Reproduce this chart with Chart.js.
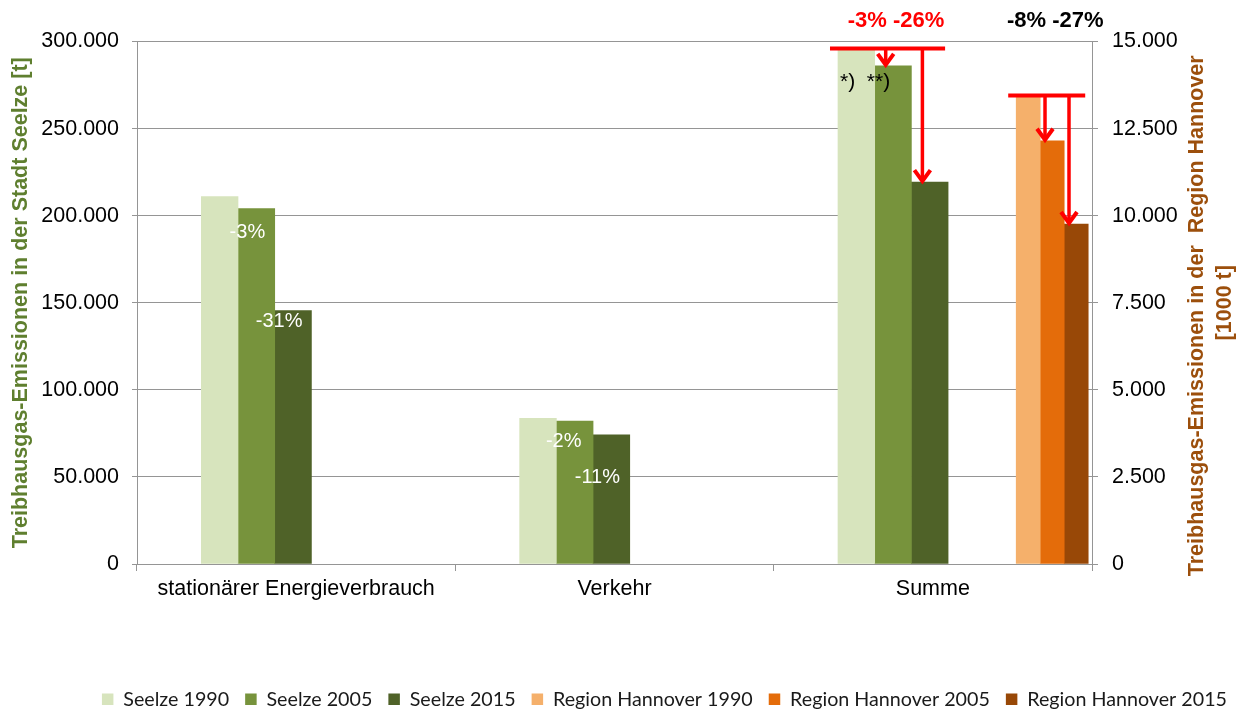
<!DOCTYPE html>
<html lang="de">
<head>
    <meta charset="UTF-8">
    <title>Treibhausgas-Emissionen Seelze und Region Hannover</title>
    <script src="https://cdn.jsdelivr.net/npm/chart.js"></script>
    <style>
        html, body {
            margin: 0;
            padding: 0;
            background: #ffffff;
        }

        .chart-container {
            position: relative;
            width: 1243px;
            height: 714px;
        }
    </style>
</head>
<body>

    <div class="chart-container">
        <canvas id="emissionChart"></canvas>
    </div>

    <script>
        // categories on the x axis
        const categories = ["stationärer Energieverbrauch", "Verkehr", "Summe"];

        // Seelze in t (left axis)
        const seelze1990 = [211000, 83700, 296000];
        const seelze2005 = [204000, 82100, 286000];
        const seelze2015 = [145500, 74200, 219300];

        // Region Hannover in 1000 t (right axis), only shown for "Summe"
        const region1990 = [null, null, 13450];
        const region2005 = [null, null, 12150];
        const region2015 = [null, null, 9760];

        // tick values
        const leftTicks = [0, 50000, 100000, 150000, 200000, 250000, 300000];
        const rightTicks = [0, 2500, 5000, 7500, 10000, 12500, 15000];

        // change labels
        const change2005 = ["-3%", "-2%", null];
        const change2015 = ["-31%", "-11%", null];
        const summeChangeSeelze = "-3% -26%";
        const summeChangeRegion = "-8% -27%";
        const footnote = "*)  **)";

        const leftTitle = "Treibhausgas-Emissionen in der Stadt Seelze [t]";
        const rightTitle = ["Treibhausgas-Emissionen in der  Region Hannover", "[1000 t]"];

        const FONT = "'Liberation Sans', Arial, sans-serif";
        const GRID = "#959595";

        // every category is split in 4 sub columns: Seelze in the 2nd, Region in the 4th
        const SUB = 4;
        const SEELZE_SLOT = 1;
        const REGION_SLOT = 3;
        const slotLabels = categories.flatMap(c => [0, 1, 2, 3].map(k => c + "#" + k));
        const toSlots = (values, slot) =>
            categories.flatMap((c, i) => [0, 1, 2, 3].map(k => (k === slot ? values[i] : null)));

        const fmt = v => String(v).replace(/\B(?=(\d{3})+(?!\d))/g, ".");

        const annotations = {
            id: "annotations",
            afterDatasetsDraw(chart) {
                const ctx = chart.ctx;
                const bar = (ds, slot) => chart.getDatasetMeta(ds).data[slot];
                ctx.save();

                // white percentage labels inside the Seelze bars
                const inner = [
                    { ds: 1, texts: change2005, offs: [[-9, 24], [-11, 20]] },
                    { ds: 2, texts: change2015, offs: [[-14, 11], [-14, 43]] }
                ];
                ctx.font = "20px " + FONT;
                ctx.fillStyle = "#ffffff";
                ctx.textAlign = "center";
                ctx.textBaseline = "middle";
                inner.forEach(l => {
                    l.texts.forEach((t, i) => {
                        if (!t) return;
                        const b = bar(l.ds, i * SUB + SEELZE_SLOT);
                        ctx.fillText(t, b.x + l.offs[i][0], b.y + l.offs[i][1]);
                    });
                });

                // footnote marks on the Summe bars
                const s0 = bar(0, 2 * SUB + SEELZE_SLOT);
                ctx.font = "21px " + FONT;
                ctx.fillStyle = "#000000";
                ctx.textAlign = "left";
                ctx.fillText(footnote, s0.x - s0.width / 2 + 2, s0.y + 33.5);

                // red brackets with arrows
                const brackets = [
                    { from: 0, to: [1, 2], slot: 2 * SUB + SEELZE_SLOT, frac: 0.3, text: summeChangeSeelze, color: "#ff0000" },
                    { from: 3, to: [4, 5], slot: 2 * SUB + REGION_SLOT, frac: 0.2, text: summeChangeRegion, color: "#000000" }
                ];
                brackets.forEach(br => {
                    const b0 = bar(br.from, br.slot);
                    const bl = bar(br.to[br.to.length - 1], br.slot);
                    const y0 = b0.y;
                    const left = b0.x - b0.width / 2 - 8;
                    const right = bl.x + bl.width / 2 - 3;
                    ctx.strokeStyle = "#ff0000";
                    ctx.lineWidth = 4;
                    ctx.beginPath();
                    ctx.moveTo(left, y0);
                    ctx.lineTo(right, y0);
                    ctx.stroke();
                    br.to.forEach(t => {
                        const b = bar(t, br.slot);
                        const ax = b.x - b.width / 2 + b.width * br.frac;
                        const tip = b.y - 1;
                        ctx.lineWidth = 3.5;
                        ctx.beginPath();
                        ctx.moveTo(ax, y0);
                        ctx.lineTo(ax, tip);
                        ctx.stroke();
                        ctx.lineWidth = 4;
                        ctx.beginPath();
                        ctx.moveTo(ax - 8, tip - 11);
                        ctx.lineTo(ax, tip);
                        ctx.lineTo(ax + 8, tip - 11);
                        ctx.stroke();
                    });
                    ctx.font = "bold 22px " + FONT;
                    ctx.fillStyle = br.color;
                    ctx.textAlign = "center";
                    ctx.fillText(br.text, (b0.x - b0.width / 2 + bl.x + bl.width / 2) / 2 + 3, chart.chartArea.top - 20.5);
                });
                ctx.restore();
            },
            afterDraw(chart) {
                // right axis title reads bottom to top like the left one
                const ctx = chart.ctx;
                const yMid = (chart.chartArea.top + chart.chartArea.bottom) / 2;
                ctx.save();
                ctx.font = "bold 21.5px " + FONT;
                ctx.fillStyle = "#9c4f0c";
                ctx.textAlign = "center";
                ctx.textBaseline = "middle";
                [chart.width - 46, chart.width - 18].forEach((x, i) => {
                    ctx.save();
                    ctx.translate(x, yMid + (i === 0 ? 13 : 0));
                    ctx.rotate(-Math.PI / 2);
                    ctx.fillText(rightTitle[i], 0, 0);
                    ctx.restore();
                });
                ctx.restore();
            }
        };

        const seelzeBar = { xAxisID: "xs", yAxisID: "y", barThickness: 36.7, skipNull: true, borderWidth: 0 };
        const regionBar = { xAxisID: "xs", yAxisID: "y2", barThickness: 24, skipNull: true, borderWidth: 0 };

        new Chart(document.getElementById("emissionChart"), {
            type: "bar",
            data: {
                datasets: [
                    { ...seelzeBar, label: "Seelze 1990", data: toSlots(seelze1990, SEELZE_SLOT), backgroundColor: "#d7e4bd" },
                    { ...seelzeBar, label: "Seelze 2005", data: toSlots(seelze2005, SEELZE_SLOT), backgroundColor: "#77933c" },
                    { ...seelzeBar, label: "Seelze 2015", data: toSlots(seelze2015, SEELZE_SLOT), backgroundColor: "#4f6228" },
                    { ...regionBar, label: "Region Hannover 1990", data: toSlots(region1990, REGION_SLOT), backgroundColor: "#f5b06b" },
                    { ...regionBar, label: "Region Hannover 2005", data: toSlots(region2005, REGION_SLOT), backgroundColor: "#e46c0a" },
                    { ...regionBar, label: "Region Hannover 2015", data: toSlots(region2015, REGION_SLOT), backgroundColor: "#984807" }
                ]
            },
            options: {
                responsive: true,
                maintainAspectRatio: false,
                animation: false,
                layout: { padding: { top: 41.5, right: 0, bottom: -5, left: 0 } },
                plugins: {
                    tooltip: { enabled: false },
                    legend: {
                        position: "bottom",
                        align: "end",
                        labels: {
                            boxWidth: 11.5,
                            boxHeight: 11.5,
                            padding: 16,
                            color: "#1a1a1a",
                            font: { family: "Lato, 'Open Sans', sans-serif", size: 19.7 }
                        }
                    }
                },
                scales: {
                    xs: {
                        type: "category",
                        labels: slotLabels,
                        position: "bottom",
                        offset: true,
                        display: false
                    },
                    x: {
                        type: "category",
                        labels: categories,
                        position: "bottom",
                        offset: true,
                        grid: { offset: true, drawOnChartArea: false, tickLength: 7, color: GRID },
                        border: { color: GRID },
                        ticks: { color: "#000000", padding: 5, maxRotation: 0, font: { family: FONT, size: 21.5 } },
                        afterFit: s => { s.height = 109.3; }
                    },
                    y: {
                        position: "left",
                        min: 0,
                        max: 300000,
                        afterBuildTicks: s => { s.ticks = leftTicks.map(v => ({ value: v })); },
                        grid: { color: GRID, tickLength: 5 },
                        border: { color: GRID },
                        ticks: { color: "#000000", padding: 13, font: { family: FONT, size: 21.5 }, callback: v => fmt(v) },
                        title: {
                            display: true,
                            text: leftTitle,
                            color: "#5f7f2f",
                            padding: { top: 8, bottom: 0 },
                            font: { family: FONT, size: 21.5, weight: "bold" }
                        },
                        afterFit: s => { s.width = 137; }
                    },
                    y2: {
                        position: "right",
                        min: 0,
                        max: 15000,
                        afterBuildTicks: s => { s.ticks = rightTicks.map(v => ({ value: v })); },
                        grid: { drawOnChartArea: false, color: GRID, tickLength: 6 },
                        border: { color: GRID },
                        ticks: { color: "#000000", padding: 14, font: { family: FONT, size: 21.5 }, callback: v => fmt(v) },
                        afterFit: s => { s.width = 151; }
                    }
                }
            },
            plugins: [annotations]
        });
    </script>

</body>
</html>
